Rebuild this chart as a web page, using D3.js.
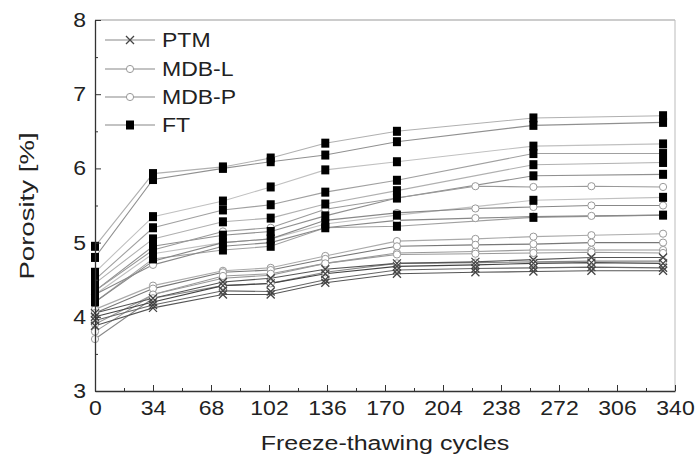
<!DOCTYPE html>
<html>
<head>
<meta charset="utf-8">
<script src="https://cdn.jsdelivr.net/npm/d3@7"></script>
<style>
  body { margin: 0; background: #fff; }
  text { font-family: "Liberation Sans", Arial, sans-serif; fill: #222; }
</style>
</head>
<body>
<div id="chart"></div>
<script>
// cycles where each specimen was measured
const ftCycles = [0, 34, 75, 103, 135, 177, 257, 333];
const mdbCycles = [0, 34, 75, 103, 135, 177, 223, 257, 291, 333];

// porosity [%] per specimen
const ptm = [
    [4.05, 4.25, 4.47, 4.52, 4.64, 4.72, 4.74, 4.77, 4.80, 4.80],
    [4.00, 4.20, 4.42, 4.45, 4.58, 4.68, 4.70, 4.72, 4.73, 4.72],
    [3.95, 4.16, 4.35, 4.34, 4.50, 4.63, 4.65, 4.66, 4.67, 4.66],
    [3.88, 4.12, 4.30, 4.30, 4.46, 4.58, 4.60, 4.61, 4.62, 4.62]
];
const mdbL = [
    [4.35, 4.90, 5.15, 5.20, 5.45, 5.60, 5.76, 5.75, 5.76, 5.75],
    [4.20, 4.75, 5.00, 5.05, 5.30, 5.40, 5.46, 5.48, 5.50, 5.50],
    [4.10, 4.42, 4.62, 4.66, 4.82, 5.02, 5.05, 5.08, 5.10, 5.12],
    [3.90, 4.30, 4.52, 4.56, 4.72, 4.86, 4.88, 4.90, 4.90, 4.90]
];
const mdbP = [
    [4.30, 4.70, 4.95, 5.00, 5.20, 5.30, 5.33, 5.35, 5.36, 5.37],
    [4.05, 4.38, 4.60, 4.63, 4.78, 4.95, 4.97, 4.98, 5.00, 5.00],
    [3.80, 4.30, 4.55, 4.58, 4.72, 4.84, 4.85, 4.86, 4.87, 4.86],
    [3.70, 4.25, 4.42, 4.45, 4.60, 4.72, 4.73, 4.74, 4.75, 4.75]
];
const ft = [
    [4.95, 5.93, 6.02, 6.14, 6.34, 6.50, 6.68, 6.71],
    [4.80, 5.85, 6.00, 6.09, 6.18, 6.36, 6.58, 6.62],
    [4.60, 5.35, 5.56, 5.75, 5.98, 6.09, 6.30, 6.33],
    [4.50, 5.20, 5.44, 5.51, 5.68, 5.84, 6.20, 6.20],
    [4.45, 5.05, 5.28, 5.33, 5.52, 5.70, 6.05, 6.08],
    [4.35, 4.95, 5.10, 5.15, 5.36, 5.60, 5.90, 5.92],
    [4.30, 4.85, 5.00, 5.05, 5.25, 5.37, 5.57, 5.61],
    [4.20, 4.78, 4.90, 4.95, 5.20, 5.22, 5.34, 5.37]
];

const legendNames = ["PTM", "MDB-L", "MDB-P", "FT"];
const xTicks = d3.range(0, 341, 34);
const yTicks = [3, 4, 5, 6, 7, 8];

const width = 697, height = 461;
const svg = d3.select("#chart").append("svg")
    .attr("width", width)
    .attr("height", height);

const x = d3.scaleLinear().domain([0, 340]).range([95, 675]);
const y = d3.scaleLinear().domain([3, 8]).range([391, 20]);

// widen text a bit, the original font runs wide
function stretch(sel, k) {
    sel.each(function () {
        const len = this.getComputedTextLength();
        d3.select(this).attr("textLength", len * k).attr("lengthAdjust", "spacingAndGlyphs");
    });
}

// frame
svg.append("line").attr("x1", 95).attr("x2", 675).attr("y1", 20).attr("y2", 20)
    .attr("stroke", "#999").attr("stroke-width", 1);
svg.append("line").attr("x1", 675).attr("x2", 675).attr("y1", 20).attr("y2", 391)
    .attr("stroke", "#bbb").attr("stroke-width", 1);

// series
const line = d3.line().x(d => x(d[0])).y(d => y(d[1]));

function addGroup(data, cycles, color) {
    const g = svg.append("g");
    data.forEach((vals, i) => {
        const pts = vals.map((v, j) => [cycles[j], v]);
        g.append("path")
            .datum(pts)
            .attr("d", line)
            .attr("fill", "none")
            .attr("stroke", color[i % color.length])
            .attr("stroke-width", 1.1);
    });
}

function addMarkers(data, cycles, kind) {
    const g = svg.append("g");
    data.forEach(vals => {
        vals.forEach((v, j) => drawMarker(g, kind, x(cycles[j]), y(v)));
    });
}

function drawMarker(g, kind, cx, cy) {
    if (kind === "x") {
        g.append("path")
            .attr("d", `M${cx - 4},${cy - 4}L${cx + 4},${cy + 4}M${cx - 4},${cy + 4}L${cx + 4},${cy - 4}`)
            .attr("stroke", "#444").attr("stroke-width", 1.3);
    } else if (kind === "o") {
        g.append("circle").attr("cx", cx).attr("cy", cy).attr("r", 3.6)
            .attr("fill", "#fff").attr("stroke", "#999").attr("stroke-width", 1);
    } else if (kind === "s") {
        g.append("rect").attr("x", cx - 4).attr("y", cy - 4.5)
            .attr("width", 8).attr("height", 9).attr("fill", "#000");
    }
}

addGroup(ft, ftCycles, ["#b0b0b0", "#909090", "#c0c0c0", "#a0a0a0"]);
addGroup(mdbL, mdbCycles, ["#999", "#888", "#aaa"]);
addGroup(mdbP, mdbCycles, ["#888", "#777", "#999"]);
addGroup(ptm, mdbCycles, ["#555", "#444", "#666"]);

addMarkers(mdbL, mdbCycles, "o");
addMarkers(mdbP, mdbCycles, "o");
addMarkers(ptm, mdbCycles, "x");
addMarkers(ft, ftCycles, "s");

// axes
const xAxis = svg.append("g").attr("transform", "translate(0,391)")
    .call(d3.axisBottom(x).tickValues(xTicks).tickSizeInner(-6).tickSizeOuter(0).tickPadding(10));
svg.append("g").attr("transform", "translate(0,391)")
    .call(d3.axisBottom(x).tickValues(d3.range(17, 340, 34)).tickSizeInner(-3).tickSizeOuter(0).tickFormat(""))
    .select(".domain").remove();
const yAxis = svg.append("g").attr("transform", "translate(95,0)")
    .call(d3.axisLeft(y).tickValues(yTicks).tickSizeInner(-6).tickSizeOuter(0).tickPadding(9).tickFormat(d3.format("d")));
svg.append("g").attr("transform", "translate(95,0)")
    .call(d3.axisLeft(y).tickValues(d3.range(3.5, 8, 1)).tickSizeInner(-3).tickSizeOuter(0).tickFormat(""))
    .select(".domain").remove();

svg.selectAll(".domain").attr("stroke", "#333").attr("stroke-width", 1.3);
svg.selectAll(".tick line").attr("stroke", "#333");
xAxis.selectAll("text").attr("font-size", 20).attr("font-family", "Liberation Sans, Arial").call(stretch, 1.15);
yAxis.selectAll("text").attr("font-size", 20).attr("font-family", "Liberation Sans, Arial").call(stretch, 1.15);

// axis titles
svg.append("text")
    .attr("x", 385).attr("y", 450)
    .attr("text-anchor", "middle")
    .attr("font-size", 20)
    .text("Freeze-thawing cycles")
    .call(stretch, 1.25);
svg.append("text")
    .attr("transform", "translate(34,206) rotate(-90)")
    .attr("text-anchor", "middle")
    .attr("font-size", 20)
    .text("Porosity [%]")
    .call(stretch, 1.38);

// legend
const legend = svg.append("g");
const kinds = ["x", "o", "o", "s"];
const legendY = [40, 69, 97, 125];
legendNames.forEach((name, i) => {
    const ly = legendY[i];
    legend.append("line").attr("x1", 105).attr("x2", 155).attr("y1", ly).attr("y2", ly)
        .attr("stroke", "#888").attr("stroke-width", 1.1);
    drawMarker(legend, kinds[i], 130, ly);
    legend.append("text").attr("x", 162).attr("y", ly + 7)
        .attr("font-size", 20).text(name).call(stretch, 1.15);
});
</script>
</body>
</html>
